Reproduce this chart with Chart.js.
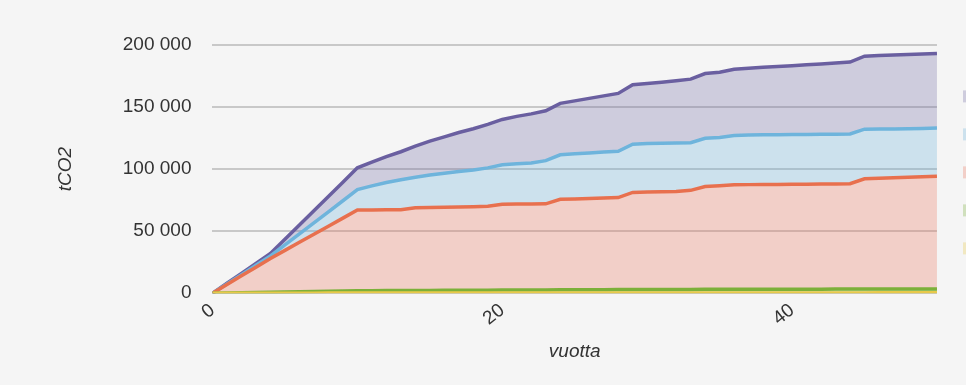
<!DOCTYPE html>
<html>
<head>
<meta charset="utf-8">
<script src="https://cdn.jsdelivr.net/npm/chart.js@4/dist/chart.umd.min.js"></script>
<style>
  html, body { margin: 0; padding: 0; background: #f5f5f5; overflow: hidden; }
  #wrap { width: 1029px; height: 385px; }
</style>
</head>
<body>
<div id="wrap"><canvas id="chart"></canvas></div>
<script>
// --- Data (cumulative tops of each band, tCO2) ---
const years = [];
for (let i = 0; i <= 50; i++) years.push(i);

const yellowTop = [0,10,20,30,40,50,60,70,80,90,100,105,110,115,120,125,130,135,140,145,150,155,160,165,170,175,180,185,190,195,200,205,210,215,220,225,230,235,240,245,250,255,260,265,270,275,280,285,290,295,300];
const greenTop = [0,200,400,600,800,1000,1200,1400,1600,1800,2000,2050,2100,2150,2200,2250,2300,2350,2400,2450,2500,2550,2600,2650,2700,2750,2800,2850,2900,2950,3000,3025,3050,3075,3100,3125,3150,3175,3200,3225,3250,3275,3300,3325,3350,3375,3400,3425,3450,3475,3500];
const redTop = [0,7000,14000,21000,28000,34500,41000,47500,54000,60500,67000,67100,67200,67300,68900,69000,69200,69400,69600,70000,71600,71800,71900,72000,75700,76000,76300,76700,77100,81200,81500,81700,81900,82900,86000,86600,87300,87500,87600,87700,87800,87900,88000,88000,88200,92200,92600,93000,93400,93800,94300];
const blueTop = [0,7500,15000,22500,30000,38900,47800,56700,65600,74500,83500,86500,89200,91500,93500,95200,96700,98000,99300,101000,103500,104300,105000,106800,111500,112300,113000,113700,114400,120000,120600,120800,121000,121300,124800,125500,127000,127500,127600,127700,127800,127900,128000,128100,128300,132200,132300,132400,132600,132800,133100];
const purpleTop = [0,8000,16000,24000,32000,43500,55000,66500,78000,89500,101000,105600,110000,114000,118500,122500,126000,129500,132500,136000,140000,142500,144500,147000,153000,155000,157000,159000,161000,168000,169000,170000,171200,172500,177000,178000,180500,181300,182000,182600,183300,184000,184700,185400,186300,191000,191500,192000,192400,192800,193200];

const yTicks = [0, 50000, 100000, 150000, 200000];
const xTicks = [0, 20, 40];

// --- Helpers ---
function pts(arr){ return years.map((yr,i)=>({x:yr, y:arr[i]})); }
function fmt(v){ return String(v).replace(/\B(?=(\d{3})+(?!\d))/g, ' '); }

function band(label, arr, line, fill, fillTo){
  return {
    label: label, data: pts(arr), borderColor: line, backgroundColor: fill,
    borderWidth: 3.5, pointRadius: 0, tension: 0, fill: fillTo
  };
}

const datasets = [
  band('Sarja 5', yellowTop, '#e8c94a', 'rgba(232,201,74,0.3)', 'origin'),
  band('Sarja 4', greenTop, '#7cb03a', 'rgba(124,176,58,0.3)', '-1'),
  band('Sarja 3', redTop, '#e8704e', 'rgba(235,120,95,0.3)', '-1'),
  band('Sarja 2', blueTop, '#6eb4dc', 'rgba(110,180,220,0.3)', '-1'),
  band('Sarja 1', purpleTop, '#6a5fa0', 'rgba(105,95,160,0.27)', '-1')
];

const tickFont = { family: 'Liberation Sans, Arial, sans-serif', size: 19 };
const titleFont = { family: 'Liberation Sans, Arial, sans-serif', size: 19, style: 'italic' };

new Chart(document.getElementById('chart'), {
  type: 'line',
  data: { datasets: datasets },
  options: {
    responsive: true, maintainAspectRatio: false, animation: false,
    layout: { padding: { left: 50, top: 45, bottom: 22, right: 0 } },
    plugins: {
      tooltip: { enabled: false },
      legend: {
        position: 'right', reverse: true, align: 'start',
        // empty title only pushes the swatches down
        title: { display: true, text: ' ', font: { size: 12 }, padding: { top: 0, bottom: 5 } },
        labels: {
          boxWidth: 12, boxHeight: 12, padding: 26, color: '#404040',
          font: { family: 'Liberation Sans, Arial, sans-serif', size: 12 },
          generateLabels(chart){
            const items = Chart.defaults.plugins.legend.labels.generateLabels(chart);
            items.forEach(it=>{ it.lineWidth = 0; });
            return items;
          }
        }
      }
    },
    scales: {
      x: {
        type: 'linear', min: 0, max: 50,
        grid: { display: false, drawTicks: false },
        border: { display: false },
        afterBuildTicks(axis){ axis.ticks = xTicks.map(v=>({value:v})); },
        ticks: { color: '#333', font: tickFont, minRotation: 38, maxRotation: 38, padding: 6 },
        title: { display: true, text: 'vuotta', color: '#333', font: titleFont, padding: { top: 4, bottom: 0 } }
      },
      y: {
        min: 0, max: 200000,
        grid: { color: '#c8c8c8', lineWidth: 2, drawTicks: false },
        border: { display: false },
        afterBuildTicks(axis){ axis.ticks = yTicks.map(v=>({value:v})); },
        ticks: { color: '#333', font: tickFont, padding: 21, callback: v=>fmt(v) },
        title: { display: true, text: 'tCO2', color: '#333', font: titleFont, padding: { top: 4, bottom: 25 } }
      }
    }
  }
});
</script>
</body>
</html>
